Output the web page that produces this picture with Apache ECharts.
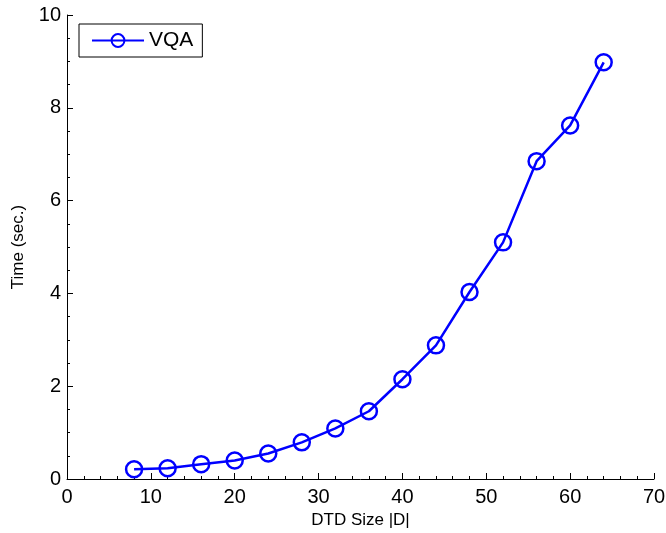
<!DOCTYPE html>
<html><head><meta charset="utf-8">
<script src="https://cdn.jsdelivr.net/npm/echarts@6/dist/echarts.min.js"></script>
<style>html,body{margin:0;padding:0;background:#fff}#c{width:666px;height:533px}</style>
</head><body><div id="c"></div>
<script>
const sizes = [8, 12, 16, 20, 24, 28, 32, 36, 40, 44, 48, 52, 56, 60, 64];
const times = [0.21, 0.23, 0.32, 0.40, 0.55, 0.79, 1.09, 1.46, 2.15, 2.88, 4.03, 5.10, 6.85, 7.62, 8.98];
const seriesName = 'VQA';
const xName = 'DTD Size |D|';
const yName = 'Time (sec.)';

const font = 'Liberation Sans, Arial, Helvetica, sans-serif';
const chart = echarts.init(document.getElementById('c'));
chart.setOption({
  animation: false,
  backgroundColor: '#fff',
  grid: {left: 67, right: 12, top: 15, bottom: 54, containLabel: false, outerBoundsMode: 'none'},
  legend: {
    left: 79, top: 24,
    data: [seriesName],
    borderColor: '#000', borderWidth: 1, borderRadius: 0,
    padding: [6, 9, 6, 12],
    itemWidth: 52, itemHeight: 16, itemGap: 6,
    textStyle: {fontFamily: font, fontSize: 21, color: '#000'}
  },
  xAxis: {
    type: 'value', min: 0, max: 70, interval: 10,
    name: xName, nameLocation: 'middle', nameGap: 33,
    nameTextStyle: {fontFamily: font, fontSize: 17, color: '#000'},
    axisLine: {show: true, lineStyle: {color: '#000', width: 1}},
    axisTick: {show: true, inside: true, length: 6, lineStyle: {color: '#000'}},
    minorTick: {show: true, splitNumber: 5, length: 3, lineStyle: {color: '#000'}},
    axisLabel: {fontFamily: font, fontSize: 20, color: '#000', margin: 8},
    splitLine: {show: false}
  },
  yAxis: {
    type: 'value', min: 0, max: 10, interval: 2,
    name: yName, nameLocation: 'middle', nameGap: 40,
    nameTextStyle: {fontFamily: font, fontSize: 17, color: '#000'},
    axisLine: {show: true, lineStyle: {color: '#000', width: 1}},
    axisTick: {show: true, inside: true, length: 6, lineStyle: {color: '#000'}},
    minorTick: {show: true, splitNumber: 4, length: 3, lineStyle: {color: '#000'}},
    axisLabel: {fontFamily: font, fontSize: 20, color: '#000', margin: 6},
    splitLine: {show: false}
  },
  series: [{
    name: seriesName,
    type: 'line',
    data: sizes.map((s, i) => [s, times[i]]),
    symbol: 'circle',
    symbolSize: 16,
    showAllSymbol: true,
    lineStyle: {color: '#0000ff', width: 2.5},
    itemStyle: {color: 'rgba(0,0,0,0)', borderColor: '#0000ff', borderWidth: 2.5}
  }]
});
</script></body></html>
